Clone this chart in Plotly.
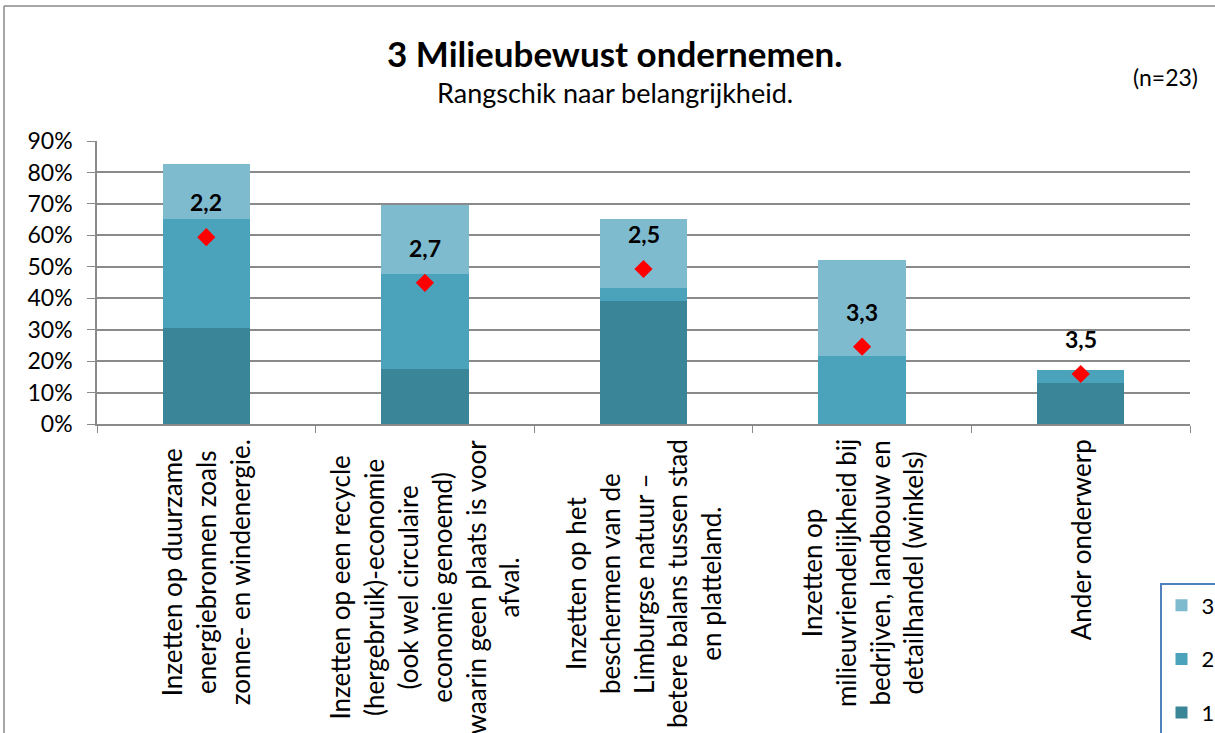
import plotly.graph_objects as go

categories = [
    "Inzetten op duurzame<br>energiebronnen zoals<br>zonne- en windenergie.",
    "Inzetten op een recycle<br>(hergebruik)-economie<br>(ook wel circulaire<br>economie genoemd)<br>waarin geen plaats is voor<br>afval.",
    "Inzetten op het<br>beschermen van de<br>Limburgse natuur –<br>betere balans tussen stad<br>en platteland.",
    "Inzetten op<br>milieuvriendelijkheid bij<br>bedrijven, landbouw en<br>detailhandel (winkels)",
    "Ander onderwerp",
]
rank1 = [30.4, 17.4, 39.1, 0.0, 13.0]
rank2 = [34.8, 30.4, 4.3, 21.7, 4.3]
rank3 = [17.4, 21.7, 21.7, 30.4, 0.0]
score_pos = [59.4, 44.9, 49.3, 24.6, 15.9]
avg_labels = ["2,2", "2,7", "2,5", "3,3", "3,5"]
y_ticks = [0, 10, 20, 30, 40, 50, 60, 70, 80, 90]

FONT = "Lato"
colors = {"1": "#3A8598", "2": "#4AA3BA", "3": "#7FBBCF"}
ranks = {"1": 3, "2": 2, "3": 1}

# plot area in page pixels: x 97..1190, y 141 (90%)..424 (0%)
def px(x):
    return (x - 97) / 1093.0

def py(y):
    return (424 - y) / 283.0

fig = go.Figure()
for name, vals in [("1", rank1), ("2", rank2), ("3", rank3)]:
    fig.add_trace(go.Bar(
        x=categories, y=vals, name=name, legendgroup=name, legendrank=ranks[name],
        marker=dict(color=colors[name], line=dict(width=0)),
        hoverinfo="skip",
    ))
fig.add_trace(go.Scatter(
    x=categories, y=score_pos, mode="markers", showlegend=False,
    marker=dict(symbol="diamond", color="#FF0000", size=14, line=dict(width=0)),
    hoverinfo="skip",
))

annotations = []
for c, v, t in zip(categories, score_pos, avg_labels):
    annotations.append(dict(
        x=c, y=v, xref="x", yref="y", text="<b>%s</b>" % t, showarrow=False,
        yshift=35, yanchor="middle", xanchor="center",
        font=dict(family=FONT, size=23, color="black"),
    ))
for c in categories:
    annotations.append(dict(
        x=c, y=py(437), xref="x", yref="paper", text=c, showarrow=False,
        textangle=-90, yanchor="top", xanchor="center", align="center",
        font=dict(family=FONT, size=26, color="black"),
    ))
annotations += [
    dict(x=px(615), y=py(53), xref="paper", yref="paper", showarrow=False,
         xanchor="center", yanchor="middle",
         text="<b>3 Milieubewust ondernemen.</b>",
         font=dict(family=FONT, size=35, color="black")),
    dict(x=px(615), y=py(93), xref="paper", yref="paper", showarrow=False,
         xanchor="center", yanchor="middle",
         text="Rangschik naar belangrijkheid.",
         font=dict(family=FONT, size=27, color="black")),
    dict(x=px(1165), y=py(77), xref="paper", yref="paper", showarrow=False,
         xanchor="center", yanchor="middle",
         text="(n=23)", font=dict(family=FONT, size=23, color="black")),
]

shapes = [
    dict(type="line", xref="paper", yref="paper", x0=px(4), x1=px(1230),
         y0=py(6), y1=py(6), line=dict(color="#8a8a8a", width=1.5)),
    dict(type="line", xref="paper", yref="paper", x0=px(4), x1=px(4),
         y0=py(6), y1=py(760), line=dict(color="#8a8a8a", width=1.5)),
]

fig.update_layout(
    width=1215, height=733,
    margin=dict(l=97, r=25, t=141, b=309, autoexpand=False),
    paper_bgcolor="white", plot_bgcolor="white",
    barmode="stack", bargap=0.6,
    font=dict(family=FONT, size=22, color="black"),
    showlegend=True,
    legend=dict(
        x=px(1160), y=py(583), xanchor="left", yanchor="top",
        traceorder="grouped", tracegroupgap=22, itemwidth=30,
        bordercolor="#4F81BD", borderwidth=1.5, bgcolor="white",
        font=dict(family=FONT, size=22, color="black"),
    ),
    annotations=annotations, shapes=shapes,
    xaxis=dict(
        showticklabels=False, ticks="outside", tickson="boundaries", ticklen=7,
        tickcolor="#8a8a8a", showline=True, linecolor="#8a8a8a", linewidth=1.5,
        showgrid=False,
    ),
    yaxis=dict(
        range=[0, 90], tickvals=y_ticks, ticktext=["%d%%" % v for v in y_ticks],
        ticks="outside", ticklen=8, tickcolor="#8a8a8a", showline=True,
        linecolor="#8a8a8a", linewidth=1.5, showgrid=True, gridcolor="#8a8a8a",
        gridwidth=1.5, zeroline=False, ticklabelstandoff=10,
        tickfont=dict(family=FONT, size=23),
    ),
)

fig.write_html(
    "out.html",
    config={"displayModeBar": False},
    post_script="document.body.style.margin='0';document.body.style.overflow='hidden';",
)
